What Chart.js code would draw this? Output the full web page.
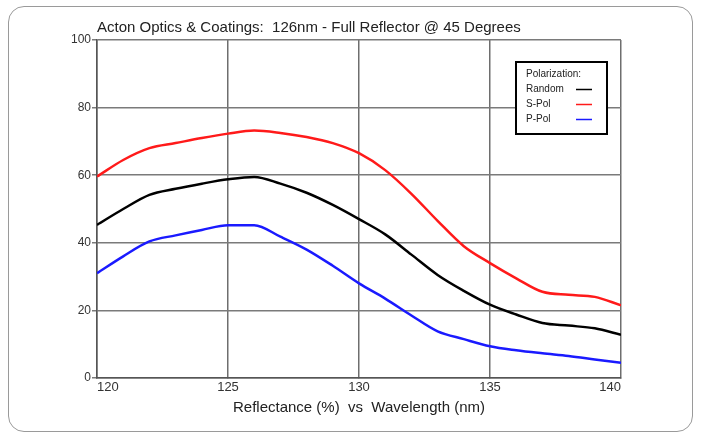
<!DOCTYPE html>
<html>
<head>
<meta charset="utf-8">
<script src="https://cdn.jsdelivr.net/npm/chart.js@4/dist/chart.umd.min.js"></script>
<style>
  html, body { margin: 0; padding: 0; background: #fff; }
  #wrap { position: relative; width: 701px; height: 437px; }
  #frame { position: absolute; left: 8px; top: 6px; width: 683px; height: 424px;
           border: 1.5px solid #9a9a9a; border-radius: 16px; }
  canvas { position: absolute; left: 0; top: 0; }
</style>
</head>
<body>
<div id="wrap">
  <div id="frame"></div>
  <canvas id="c" width="701" height="437"></canvas>
</div>
<script>
const wavelengths = [120,121,122,123,124,125,126,127,128,129,130,131,132,133,134,135,136,137,138,139,140];
const randomPol = [45.3,50,54.2,56,57.5,58.8,59.5,57.5,54.8,51.2,47,42.5,36.5,30.5,25.8,21.7,18.8,16.3,15.5,14.7,12.8];
const sPol      = [59.6,64.5,68,69.5,71,72.3,73.2,72.5,71.3,69.5,66.5,61.5,54.5,46.5,39,34,29.5,25.5,24.6,24,21.5];
const pPol      = [31,36,40.4,42.2,43.8,45.2,45.2,41.8,38,33.2,28,23.5,18.5,13.8,11.5,9.4,8.2,7.3,6.5,5.5,4.5];
const seriesNames = ["Random","S-Pol","P-Pol"];
const seriesColors = ["#000000","#ff1a1a","#1a1aff"];
const legendTitle = "Polarization:";
const chartTitle = "Acton Optics & Coatings:  126nm - Full Reflector @ 45 Degrees";
const xTitle = "Reflectance (%)  vs  Wavelength (nm)";

const FONT = "'Liberation Sans Narrow', 'Liberation Sans', sans-serif";

function pts(vals){ return wavelengths.map((w,i)=>({x:w, y:vals[i]})); }

const boxLegend = {
  id: 'boxLegend',
  afterDatasetsDraw(chart){
    const ctx = chart.ctx, a = chart.chartArea;
    const w = 91, h = 72;
    const x = a.right - 14 - w, y = a.top + 22;
    ctx.save();
    ctx.fillStyle = '#fff';
    ctx.fillRect(x, y, w, h);
    ctx.strokeStyle = '#000';
    ctx.lineWidth = 2;
    ctx.strokeRect(x, y, w, h);
    ctx.font = "10px " + FONT;
    ctx.fillStyle = '#222';
    ctx.textBaseline = 'middle';
    ctx.textAlign = 'left';
    ctx.fillText(legendTitle, x + 10, y + 12);
    chart.data.datasets.forEach((ds, i) => {
      const ty = y + 27 + i * 15;
      ctx.fillStyle = '#222';
      ctx.fillText(ds.label, x + 10, ty);
      ctx.strokeStyle = ds.borderColor;
      ctx.lineWidth = 1.5;
      ctx.beginPath();
      ctx.moveTo(x + 60, ty + 0.5);
      ctx.lineTo(x + 76, ty + 0.5);
      ctx.stroke();
    });
    ctx.restore();
  }
};

new Chart(document.getElementById('c'), {
  type: 'line',
  data: {
    datasets: [
      { label: seriesNames[0], data: pts(randomPol), borderColor: seriesColors[0] },
      { label: seriesNames[1], data: pts(sPol), borderColor: seriesColors[1] },
      { label: seriesNames[2], data: pts(pPol), borderColor: seriesColors[2] }
    ]
  },
  options: {
    responsive: false,
    animation: false,
    devicePixelRatio: 1,
    layout: { padding: { top: 19, right: 80, bottom: 17, left: 0 } },
    elements: {
      point: { radius: 0 },
      line: { borderWidth: 2.5, cubicInterpolationMode: 'monotone', fill: false }
    },
    plugins: {
      legend: { display: false },
      tooltip: { enabled: false },
      title: {
        display: true,
        text: chartTitle,
        align: 'start',
        fullSize: false,
        color: '#222',
        font: { family: FONT, size: 15, weight: 'normal' },
        padding: { top: 0, bottom: 3 }
      }
    },
    scales: {
      x: {
        type: 'linear', min: 120, max: 140,
        ticks: { stepSize: 5, align: 'inner', color: '#333', font: { family: FONT, size: 13 }, padding: 2 },
        grid: { color: '#6e6e6e', lineWidth: 1.5, tickLength: 0 },
        border: { color: '#555', width: 1.5 },
        title: { display: true, text: xTitle, color: '#222', font: { family: FONT, size: 15 }, padding: { top: 0, bottom: 3 } },
        afterFit(s){ s.height = 42; }
      },
      y: {
        min: 0, max: 100,
        ticks: { stepSize: 20, color: '#333', font: { family: FONT, size: 12 }, padding: 1 },
        grid: { color: '#7a7a7a', lineWidth: 1.5, tickLength: 5 },
        border: { color: '#555', width: 1.5 },
        afterFit(s){ s.width = 97; }
      }
    }
  },
  plugins: [boxLegend]
});
</script>
</body>
</html>
